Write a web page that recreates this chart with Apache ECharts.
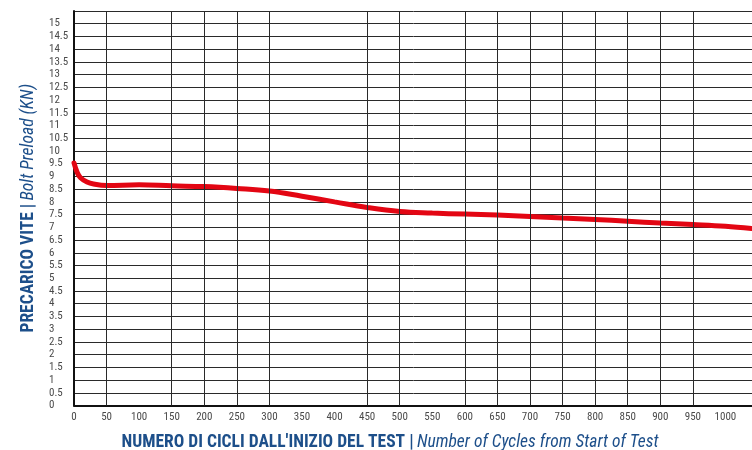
<!DOCTYPE html>
<html>
<head>
<meta charset="utf-8">
<script src="https://cdn.jsdelivr.net/npm/echarts@6/dist/echarts.min.js"></script>
<style>
html,body{margin:0;padding:0;background:#fff;}
#c{width:752px;height:450px;}
</style>
</head>
<body>
<div id="c"></div>
<script>
// Data
const cycles = [0, 5, 10, 20, 30, 50, 100, 150, 200, 250, 300, 350, 400, 450, 500, 550, 600, 650, 700, 750, 800, 850, 900, 950, 1000, 1040];
const preloadKN = [9.53, 9.15, 8.95, 8.78, 8.70, 8.64, 8.67, 8.63, 8.60, 8.53, 8.43, 8.22, 8.00, 7.78, 7.62, 7.56, 7.52, 7.48, 7.43, 7.37, 7.31, 7.24, 7.17, 7.11, 7.04, 6.95];
// vertical grid lines that are actually drawn in the reference
const xGridLines = [50, 150, 200, 250, 300, 450, 500, 600, 650, 700, 750, 800, 850, 900, 950];
const xTitleIt = "NUMERO DI CICLI DALL'INIZIO DEL TEST |";
const xTitleEn = "Number of Cycles from Start of Test";
const yTitleIt = "PRECARICO VITE |";
const yTitleEn = "Bolt Preload (KN)";

const FONT = '"Roboto Condensed","DejaVu Sans Condensed","Liberation Sans Narrow",Roboto,sans-serif';
const BLUE = '#1d4f8a';
const GRID = '#2a2a2a';

const chart = echarts.init(document.getElementById('c'), null, {renderer: 'canvas'});
chart.setOption({
  animation: false,
  backgroundColor: '#ffffff',
  grid: {left: 74, top: 11, bottom: 44.5, width: 684, containLabel: false, outerBoundsMode: 'none'},
  xAxis: {
    type: 'value',
    min: 0, max: 1050, interval: 50,
    axisLine: {show: true, lineStyle: {color: '#111', width: 2}},
    axisTick: {show: false},
    axisLabel: {
      fontFamily: FONT, fontSize: 11, color: '#4a4a4a', margin: 6,
      showMaxLabel: false,
      formatter: v => String(v)
    },
    splitLine: {show: false},
    name: '{a|' + xTitleIt + '} {b|' + xTitleEn + '}',
    nameLocation: 'middle',
    nameGap: 28,
    nameTextStyle: {
      padding: [0, 52, 0, 0],
      rich: {
        a: {fontFamily: FONT, fontSize: 17.5, fontWeight: 'bold', color: BLUE},
        b: {fontFamily: FONT, fontSize: 17.5, fontStyle: 'italic', color: BLUE}
      }
    }
  },
  yAxis: {
    type: 'value',
    min: 0, max: 15.5, interval: 0.5,
    axisLine: {show: true, onZero: false, lineStyle: {color: '#111', width: 2}},
    axisTick: {show: false},
    axisLabel: {
      fontFamily: FONT, fontSize: 11, color: '#4a4a4a',
      align: 'left', margin: 25, padding: [0, 0, 5, 0],
      showMaxLabel: false
    },
    splitLine: {show: true, lineStyle: {color: GRID, width: 1}},
    name: '{a|' + yTitleIt + '} {b|' + yTitleEn + '}',
    nameLocation: 'middle',
    nameGap: 31,
    nameRotate: 90,
    nameTextStyle: {
      rich: {
        a: {fontFamily: FONT, fontSize: 17.5, fontWeight: 'bold', color: BLUE},
        b: {fontFamily: FONT, fontSize: 17.5, fontStyle: 'italic', color: BLUE}
      }
    }
  },
  series: [{
    type: 'line',
    data: [],
    z: 1,
    silent: true,
    markLine: {
      silent: true,
      symbol: ['none', 'none'],
      label: {show: false},
      animation: false,
      lineStyle: {type: 'solid', color: GRID, width: 1},
      emphasis: {disabled: true},
      data: xGridLines.map(v => ({xAxis: v}))
    }
  }, {
    type: 'line',
    z: 3,
    data: cycles.map((c, i) => [c, preloadKN[i]]),
    smooth: 0.4,
    showSymbol: false,
    symbol: 'none',
    lineStyle: {color: '#e30613', width: 5, cap: 'round'},
    clip: true
  }]
});
</script>
</body>
</html>
